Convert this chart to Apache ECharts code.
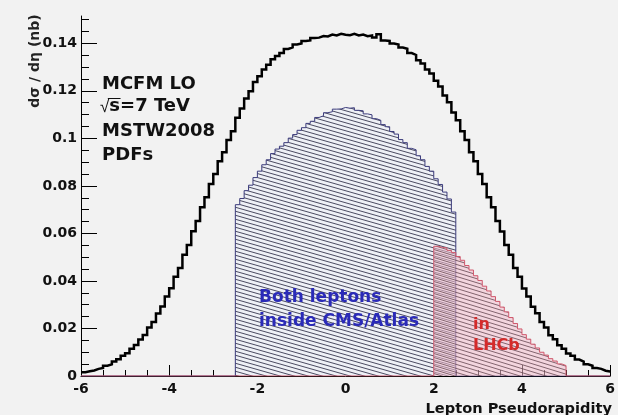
<!DOCTYPE html>
<html>
<head>
<meta charset="utf-8">
<script src="https://cdn.jsdelivr.net/npm/echarts@6/dist/echarts.min.js"></script>
<style>
  html, body { margin: 0; padding: 0; background: #f2f2f2; }
  #chart { width: 618px; height: 415px; }
</style>
</head>
<body>
<div id="chart"></div>
<script>
// Histogram range and binning (pseudorapidity)
const X_MIN = -6;
const X_MAX = 6;
const BIN = 0.1;
const Y_MAX = 0.1515;

// All leptons: dσ/dη per 0.1 bin from -6 to 6
const allLeptons = [
  0.0016, 0.0020, 0.0023, 0.0030, 0.0034, 0.0043, 0.0049, 0.0061, 0.0070, 0.0085,
  0.0096, 0.0115, 0.0130, 0.0154, 0.0173, 0.0204, 0.0227, 0.0263, 0.0293, 0.0335,
  0.0369, 0.0418, 0.0455, 0.0510, 0.0551, 0.0609, 0.0652, 0.0710, 0.0752, 0.0808,
  0.0850, 0.0904, 0.0942, 0.0993, 0.1030, 0.1087, 0.1126, 0.1168, 0.1198, 0.1237,
  0.1261, 0.1290, 0.1310, 0.1333, 0.1347, 0.1359, 0.1376, 0.1383, 0.1395, 0.1399,
  0.1410, 0.1412, 0.1422, 0.1424, 0.1431, 0.1429, 0.1437, 0.1433, 0.1440, 0.1436,
  0.1434, 0.1440, 0.1433, 0.1437, 0.1430, 0.1433, 0.1424, 0.1438, 0.1412, 0.1410,
  0.1399, 0.1395, 0.1382, 0.1377, 0.1359, 0.1351, 0.1329, 0.1315, 0.1290, 0.1273,
  0.1243, 0.1218, 0.1180, 0.1152, 0.1109, 0.1076, 0.1030, 0.0993, 0.0942, 0.0904,
  0.0850, 0.0808, 0.0752, 0.0710, 0.0652, 0.0608, 0.0551, 0.0510, 0.0455, 0.0418,
  0.0368, 0.0335, 0.0291, 0.0264, 0.0227, 0.0204, 0.0172, 0.0155, 0.0129, 0.0115,
  0.0095, 0.0085, 0.0069, 0.0061, 0.0049, 0.0043, 0.0034, 0.0030, 0.0022, 0.0019
];

// Both leptons inside CMS/Atlas: bins from -2.5 to 2.5
const cmsStart = -2.5;
const cmsAtlas = [
  0.0721, 0.0747, 0.0780, 0.0803, 0.0835, 0.0862, 0.0889, 0.0910, 0.0936, 0.0955,
  0.0967, 0.0982, 0.1001, 0.1016, 0.1034, 0.1045, 0.1063, 0.1072, 0.1088, 0.1095,
  0.1108, 0.1112, 0.1123, 0.1124, 0.1130,
  0.1127, 0.1129, 0.1118, 0.1116, 0.1103, 0.1099, 0.1083, 0.1076, 0.1058, 0.1049,
  0.1029, 0.1018, 0.0995, 0.0982, 0.0958, 0.0952, 0.0927, 0.0910, 0.0882, 0.0862,
  0.0830, 0.0806, 0.0774, 0.0745, 0.0690
];

// In LHCb: bins from 2.0 to 5.0
const lhcbStart = 2.0;
const lhcb = [
  0.0546, 0.0541, 0.0539, 0.0529, 0.0520, 0.0503, 0.0487, 0.0465, 0.0446, 0.0422,
  0.0402, 0.0378, 0.0358, 0.0334, 0.0314, 0.0290, 0.0270, 0.0246, 0.0221, 0.0198,
  0.0174, 0.0155, 0.0134, 0.0118, 0.0100, 0.0088, 0.0073, 0.0063, 0.0051, 0.0044
];

// Axis tick values
const yTickValues = [0, 0.02, 0.04, 0.06, 0.08, 0.1, 0.12, 0.14];
const yMinorStep = 0.005;

// Build step-histogram points (left bin edge, content)
function histPoints(start, values, padToRange) {
  const pts = [];
  if (padToRange) pts.push([X_MIN, 0]);
  values.forEach((v, i) => pts.push([+(start + i * BIN).toFixed(3), v]));
  const end = +(start + values.length * BIN).toFixed(3);
  if (padToRange) {
    pts.push([end, 0]);
    pts.push([X_MAX, 0]);
  } else {
    pts.push([end, values[values.length - 1]]);
  }
  return pts;
}

// Hatched fill tile: one sloped line per tile, repeating seamlessly
function hatch(bg, line, w, h, lw) {
  const c = document.createElement('canvas');
  c.width = w; c.height = h;
  const g = c.getContext('2d');
  g.fillStyle = bg;
  g.fillRect(0, 0, w, h);
  g.strokeStyle = line;
  g.lineWidth = lw;
  [-h, 0, h].forEach(dy => {
    g.beginPath();
    g.moveTo(0, dy);
    g.lineTo(w, dy + h);
    g.stroke();
  });
  return c;
}

const blueHatch = hatch('#eef0f6', '#4a4a60', 14, 4, 1);
const redHatch = hatch('rgba(244,190,205,0.55)', 'rgba(100,70,80,0.8)', 13, 4, 1);

const yMinorTicks = [];
for (let v = 0; v <= Y_MAX + 1e-9; v += yMinorStep) yMinorTicks.push(+v.toFixed(3));

const FONT = 'DejaVu Sans';

// Radical sign width for the √s label
const measure = document.createElement('canvas').getContext('2d');
measure.font = '17px "Liberation Sans"';
const radW = measure.measureText('√').width;
measure.font = 'bold 18px "DejaVu Sans"';
const sW = measure.measureText('s').width;

const textX = 102;
const sqrtX = textX - 2;

const chart = echarts.init(document.getElementById('chart'), null, { renderer: 'canvas' });

chart.setOption({
  backgroundColor: '#f2f2f2',
  animation: false,
  grid: { left: 81, right: 6, top: 16, bottom: 39 },
  xAxis: {
    type: 'value',
    min: X_MIN,
    max: X_MAX,
    interval: 2,
    axisLine: { onZero: false, lineStyle: { color: '#000', width: 1 } },
    axisTick: { inside: true, length: 11, lineStyle: { color: '#000' } },
    minorTick: { show: true, splitNumber: 4, length: 6, lineStyle: { color: '#000' } },
    axisLabel: {
      margin: 6, color: '#111', fontFamily: FONT, fontWeight: 'bold', fontSize: 14,
      showMinLabel: true, showMaxLabel: true
    },
    splitLine: { show: false }
  },
  yAxis: [
    {
      type: 'value',
      min: 0,
      max: Y_MAX,
      axisLine: { show: true, onZero: false, lineStyle: { color: '#000', width: 1 } },
      axisTick: { show: true, inside: true, length: 16, customValues: yTickValues, lineStyle: { color: '#000' } },
      axisLabel: {
        customValues: yTickValues,
        margin: 4, color: '#111', fontFamily: FONT, fontWeight: 'bold', fontSize: 14,
        formatter: v => String(+v.toFixed(3))
      },
      splitLine: { show: false }
    },
    {
      type: 'value',
      position: 'left',
      min: 0,
      max: Y_MAX,
      axisLine: { show: false, onZero: false },
      axisTick: { show: true, inside: true, length: 8, customValues: yMinorTicks, lineStyle: { color: '#000' } },
      axisLabel: { show: false },
      splitLine: { show: false }
    }
  ],
  series: [
    {
      name: 'Both leptons inside CMS/Atlas',
      type: 'line',
      step: 'end',
      symbol: 'none',
      data: histPoints(cmsStart, cmsAtlas, true),
      lineStyle: { color: '#3c3c7c', width: 1 },
      areaStyle: { color: { image: blueHatch, repeat: 'repeat' }, opacity: 1 },
      z: 2
    },
    {
      name: 'in LHCb',
      type: 'line',
      step: 'end',
      symbol: 'none',
      data: histPoints(lhcbStart, lhcb, true),
      lineStyle: { color: '#d0586c', width: 1 },
      areaStyle: { color: { image: redHatch, repeat: 'repeat' }, opacity: 1 },
      z: 3
    },
    {
      name: 'all leptons',
      type: 'line',
      step: 'end',
      symbol: 'none',
      data: histPoints(X_MIN, allLeptons, false),
      lineStyle: { color: '#000', width: 2.5, join: 'miter' },
      z: 4
    }
  ],
  graphic: [
    {
      type: 'text', x: 35, y: 61, rotation: Math.PI / 2,
      style: { text: 'dσ / dη (nb)', fill: '#222', font: 'bold 14px "DejaVu Sans"', align: 'center', verticalAlign: 'middle' }
    },
    {
      type: 'text', x: 612, y: 409,
      style: { text: 'Lepton Pseudorapidity', fill: '#111', font: 'bold 14.6px "DejaVu Sans"', align: 'right', verticalAlign: 'middle' }
    },
    {
      type: 'text', x: textX, y: 84,
      style: { text: 'MCFM LO', fill: '#111', font: 'bold 18px "DejaVu Sans"', align: 'left', verticalAlign: 'middle' }
    },
    {
      type: 'text', x: sqrtX, y: 107,
      style: { text: '√', fill: '#111', font: '17px "Liberation Sans"', align: 'left', verticalAlign: 'middle' }
    },
    {
      type: 'text', x: sqrtX + radW, y: 106.5,
      style: { text: 's=7 TeV', fill: '#111', font: 'bold 18px "DejaVu Sans"', align: 'left', verticalAlign: 'middle' }
    },
    {
      type: 'line',
      shape: { x1: sqrtX + radW - 1.5, y1: 98.5, x2: sqrtX + radW + sW + 0.5, y2: 98.5 },
      style: { stroke: '#111', lineWidth: 1 }
    },
    {
      type: 'text', x: textX, y: 131.5,
      style: { text: 'MSTW2008', fill: '#111', font: 'bold 18px "DejaVu Sans"', align: 'left', verticalAlign: 'middle' }
    },
    {
      type: 'text', x: textX, y: 155.5,
      style: { text: 'PDFs', fill: '#111', font: 'bold 18px "DejaVu Sans"', align: 'left', verticalAlign: 'middle' }
    },
    {
      type: 'text', x: 259, y: 298, z: 10,
      style: { text: 'Both leptons', fill: '#2a2ab8', font: 'bold 17px "DejaVu Sans"', align: 'left', verticalAlign: 'middle' }
    },
    {
      type: 'text', x: 259, y: 322, z: 10,
      style: { text: 'inside CMS/Atlas', fill: '#2a2ab8', font: 'bold 17px "DejaVu Sans"', align: 'left', verticalAlign: 'middle' }
    },
    {
      type: 'text', x: 473, y: 325, z: 10,
      style: { text: 'in', fill: '#d42a2a', font: 'bold 16px "DejaVu Sans"', align: 'left', verticalAlign: 'middle' }
    },
    {
      type: 'text', x: 473, y: 345.5, z: 10,
      style: { text: 'LHCb', fill: '#d42a2a', font: 'bold 16px "DejaVu Sans"', align: 'left', verticalAlign: 'middle' }
    }
  ]
});
</script>
</body>
</html>
